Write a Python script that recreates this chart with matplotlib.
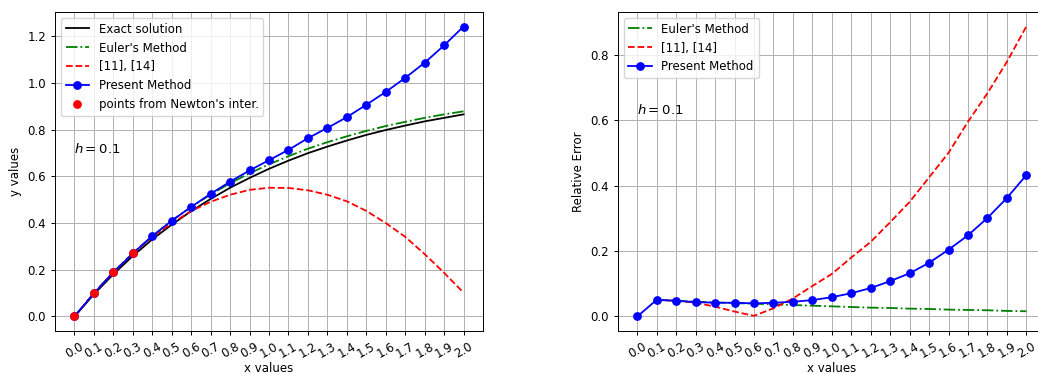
import matplotlib
matplotlib.use('Agg')
import matplotlib.pyplot as plt
import numpy as np

# x 值
x_vals = [0.0, 0.1, 0.2, 0.3, 0.4, 0.5, 0.6, 0.7, 0.8, 0.9, 1.0,
          1.1, 1.2, 1.3, 1.4, 1.5, 1.6, 1.7, 1.8, 1.9, 2.0]

# 精确解
y_exact = [0.000, 0.095, 0.181, 0.259, 0.330, 0.393, 0.451, 0.503, 0.551, 0.593, 0.632,
           0.667, 0.699, 0.727, 0.753, 0.777, 0.798, 0.817, 0.835, 0.850, 0.865]

# Euler 方法
y_euler = [0.000, 0.100, 0.190, 0.271, 0.344, 0.410, 0.469, 0.522, 0.570, 0.613, 0.651,
           0.686, 0.718, 0.746, 0.771, 0.794, 0.815, 0.833, 0.850, 0.865, 0.878]

# [11], [14]
y_ref = [0.000, 0.100, 0.190, 0.270, 0.340, 0.399, 0.451, 0.491, 0.521, 0.542, 0.551,
         0.550, 0.540, 0.521, 0.493, 0.452, 0.400, 0.341, 0.267, 0.187, 0.102]

# 本文方法
y_present = [0.000, 0.099, 0.189, 0.270, 0.344, 0.410, 0.469, 0.525, 0.577, 0.625, 0.669,
             0.713, 0.763, 0.807, 0.853, 0.906, 0.961, 1.021, 1.086, 1.160, 1.241]

# Newton 插值点
x_newton = [0.0, 0.1, 0.2, 0.3]
y_newton = [0.000, 0.100, 0.190, 0.270]

# 相对误差 (从 0.1 开始)
x_err = x_vals[1:]
err_euler = [0.051, 0.048, 0.045, 0.043, 0.041, 0.039, 0.037, 0.035, 0.033, 0.031,
             0.029, 0.027, 0.026, 0.024, 0.023, 0.021, 0.020, 0.019, 0.017, 0.016]
err_ref = [0.050, 0.048, 0.042, 0.030, 0.015, 0.002, 0.025, 0.055, 0.093, 0.130,
           0.180, 0.228, 0.288, 0.350, 0.425, 0.500, 0.595, 0.682, 0.778, 0.886]
err_present = [0.000, 0.051, 0.048, 0.044, 0.042, 0.042, 0.040, 0.042, 0.045, 0.050, 0.059,
               0.071, 0.087, 0.108, 0.132, 0.164, 0.204, 0.248, 0.301, 0.362, 0.432]

plt.rcParams['font.size'] = 8.5
plt.rcParams['axes.linewidth'] = 0.7
plt.rcParams['xtick.major.width'] = 0.7
plt.rcParams['ytick.major.width'] = 0.7
plt.rcParams['xtick.major.size'] = 3
plt.rcParams['ytick.major.size'] = 3
plt.rcParams['grid.linewidth'] = 0.7
plt.rcParams['lines.linewidth'] = 1.3
plt.rcParams['lines.markersize'] = 5.3

fig = plt.figure(figsize=(10.38, 3.74), dpi=100)
ax1 = fig.add_axes([0.0530, 0.1150, 0.4123, 0.8529])
ax2 = fig.add_axes([0.5952, 0.1150, 0.4123, 0.8529])

ticks = np.round(np.arange(0, 2.01, 0.1), 1)

ax1.plot(x_vals, y_exact, 'k-', label='Exact solution')
ax1.plot(x_vals, y_euler, 'g-.', label="Euler's Method")
ax1.plot(x_vals, y_ref, 'r--', label='[11], [14]')
ax1.plot(x_vals, y_present, 'b-o', label='Present Method')
ax1.plot(x_newton, y_newton, 'ro', label="points from Newton's inter.")
ax1.text(0.0, 0.70, '$h=0.1$', fontsize=9.5)
ax1.set_xticks(ticks)
ax1.set_xticklabels(['%.1f' % t for t in ticks], rotation=30)
ax1.set_xlabel('x values', labelpad=1)
ax1.set_ylabel('y values')
ax1.legend(loc='upper left')
ax1.grid()

ax2.plot(x_err, err_euler, 'g-.', label="Euler's Method")
ax2.plot(x_err, err_ref, 'r--', label='[11], [14]')
ax2.plot(x_vals, err_present, 'b-o', label='Present Method')
ax2.text(0.0, 0.62, '$h=0.1$', fontsize=9.5)
ax2.set_xticks(ticks)
ax2.set_xticklabels(['%.1f' % t for t in ticks], rotation=30)
ax2.set_xlabel('x values', labelpad=1)
ax2.set_ylabel('Relative Error')
ax2.legend(loc='upper left')
ax2.grid()

fig.savefig('out.png', dpi=100)
